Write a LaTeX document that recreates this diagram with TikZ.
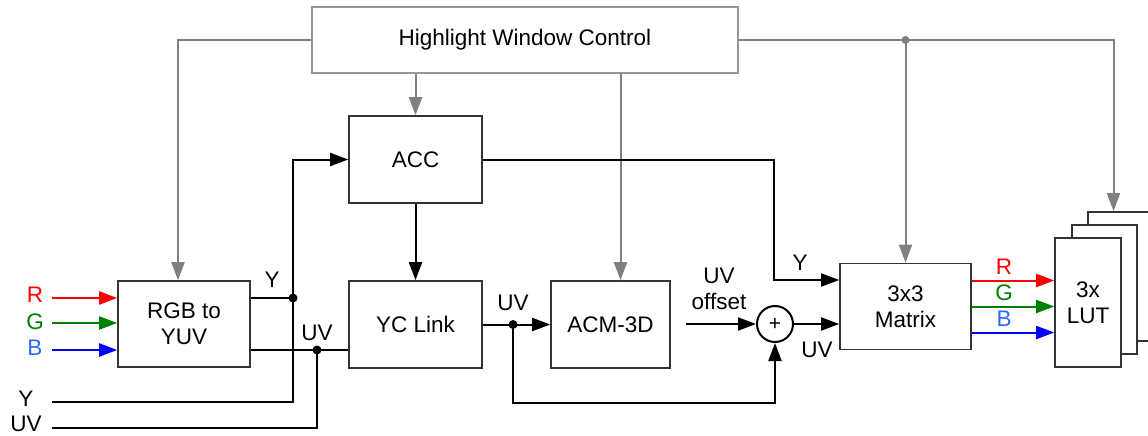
\documentclass[tikz,border=0pt]{standalone}
\usepackage{fontspec}
\setmainfont{Liberation Sans}
\usetikzlibrary{arrows.meta,calc}
\definecolor{ctlgray}{RGB}{128,128,128}
\definecolor{boxgray}{RGB}{150,150,150}
\definecolor{bblue}{RGB}{51,102,255}
\definecolor{dgreen}{RGB}{0,128,0}
\begin{document}
\begin{tikzpicture}[x=1pt, y=-1pt, line width=2pt, line join=miter,
		font=\fontsize{22.5}{26}\selectfont,
		>={Triangle[length=18pt,width=13pt]},
		blk/.style={draw=black!80, line width=1.6pt, fill=white, inner sep=0pt, align=center},
		ctl/.style={draw=ctlgray, line width=2pt},
		jdot/.style={circle, fill, inner sep=0pt, minimum size=9pt},
		lbl/.style={inner sep=0pt, align=center}]
			\useasboundingbox (0,0) rectangle (1148,436);
			% --- blocks
			\node[blk, draw=boxgray, minimum width=426, minimum height=66] (hwc) at (525,40) {Highlight Window Control};
			\node[blk, minimum width=132, minimum height=86] (rgb) at (184,324) {RGB to\\YUV};
			\node[blk, minimum width=133, minimum height=87] (acc) at (415.5,159.5) {ACC};
			\node[blk, minimum width=133, minimum height=87] (yc) at (415.5,324.5) {YC Link};
			\node[blk, minimum width=119, minimum height=87] (acm) at (610.5,324.5) {ACM-3D};
			\node[blk, minimum width=131, minimum height=86] (mtx) at (905.5,306.5) {3x3\\Matrix};
			\node[blk, minimum width=65, minimum height=129] (lutc) at (1120.5,276.5) {};
			\node[blk, minimum width=65, minimum height=129] (lutb) at (1104.5,289.5) {};
			\node[blk, minimum width=66, minimum height=129] (luta) at (1088,302.5) {3x\\LUT};
			\node[circle, draw, line width=2pt, minimum size=36, inner sep=0pt, font=\fontsize{21}{21}\selectfont] (add) at (775,324) {+};
			% --- control lines
			\draw[ctl, ->] (hwc.west) -| ([xshift=-6pt]rgb.north);
			\draw[ctl, ->] (hwc.south -| acc.north) -- (acc.north);
			\draw[ctl, ->] ([xshift=10pt]hwc.south -| acm.north) -- ([xshift=10pt]acm.north);
			\draw[ctl, ->] (hwc.east) -| ([xshift=-7pt]lutc.north);
			\coordinate (tap) at (mtx.north |- hwc.east);
			\node[jdot, fill=ctlgray, minimum size=8pt] at (tap) {};
			\draw[ctl, ->] (tap) -- (mtx.north);
			% --- inputs
			\node[lbl, red] (inr) at (35,295) {R};
			\node[lbl, dgreen] (ing) at (35,322) {G};
			\node[lbl, bblue] (inb) at (35,348) {B};
			\node[lbl] (iny) at (26,399) {Y};
			\node[lbl] (inuv) at (26,424) {UV};
			\draw[red, ->] (52,298) -- (rgb.west |- 0,298);
			\draw[dgreen, ->] (52,323) -- (rgb.west |- 0,323);
			\draw[blue, ->] (52,350) -- (rgb.west |- 0,350);
			\coordinate (ydot) at (293,298);
			\coordinate (uvdot) at (317,350);
			\draw (rgb.east |- ydot) -- (ydot);
			\draw (rgb.east |- uvdot) -- (yc.west |- uvdot);
			\draw[->] (52,402) -| (acc.west -| ydot) -- (acc.west);
			\draw (52,428) -| (uvdot);
			\node[jdot] at (ydot) {};
			\node[jdot] at (uvdot) {};
			\node[lbl] at (272,280) {Y};
			\node[lbl] at (317,333) {UV};
			% --- luma / chroma path
			\draw[->] (acc) -- (yc);
			\coordinate (ymx) at ($(mtx.west)+(0,-26.5)$);
			\draw[->] (acc.east) -| ($(ymx)+(-65,0)$) -- (ymx);
			\node[lbl] at (800,263) {Y};
			\draw[->] (yc) -- (acm);
			\coordinate (uvsplit) at (513,324.5);
			\node[jdot] at (uvsplit) {};
			\node[lbl] at (513,303) {UV};
			\draw[->] (uvsplit) |- ($(add.south)+(0,60)$) -- (add.south);
			\coordinate (offs) at (686,324);
			\draw[->] (offs) -- (add.west);
			\node[lbl] at (719,289) {UV\\offset};
			\draw[->] (add.east) -- (add -| mtx.west);
			\node[lbl] at (817,350) {UV};
			% --- matrix to LUT
			\coordinate (rout) at ($(mtx.east)+(0,-26)$);
			\coordinate (bout) at ($(mtx.east)+(0,26)$);
			\draw[red, ->] (rout) -- (rout -| luta.west);
			\draw[dgreen, ->] (mtx.east) -- (mtx.east -| luta.west);
			\draw[blue, ->] (bout) -- (bout -| luta.west);
			\node[lbl, red] at (1004,267) {R};
			\node[lbl, dgreen] at (1004,293) {G};
			\node[lbl, bblue] at (1004,319) {B};
		\end{tikzpicture}
\end{document}
